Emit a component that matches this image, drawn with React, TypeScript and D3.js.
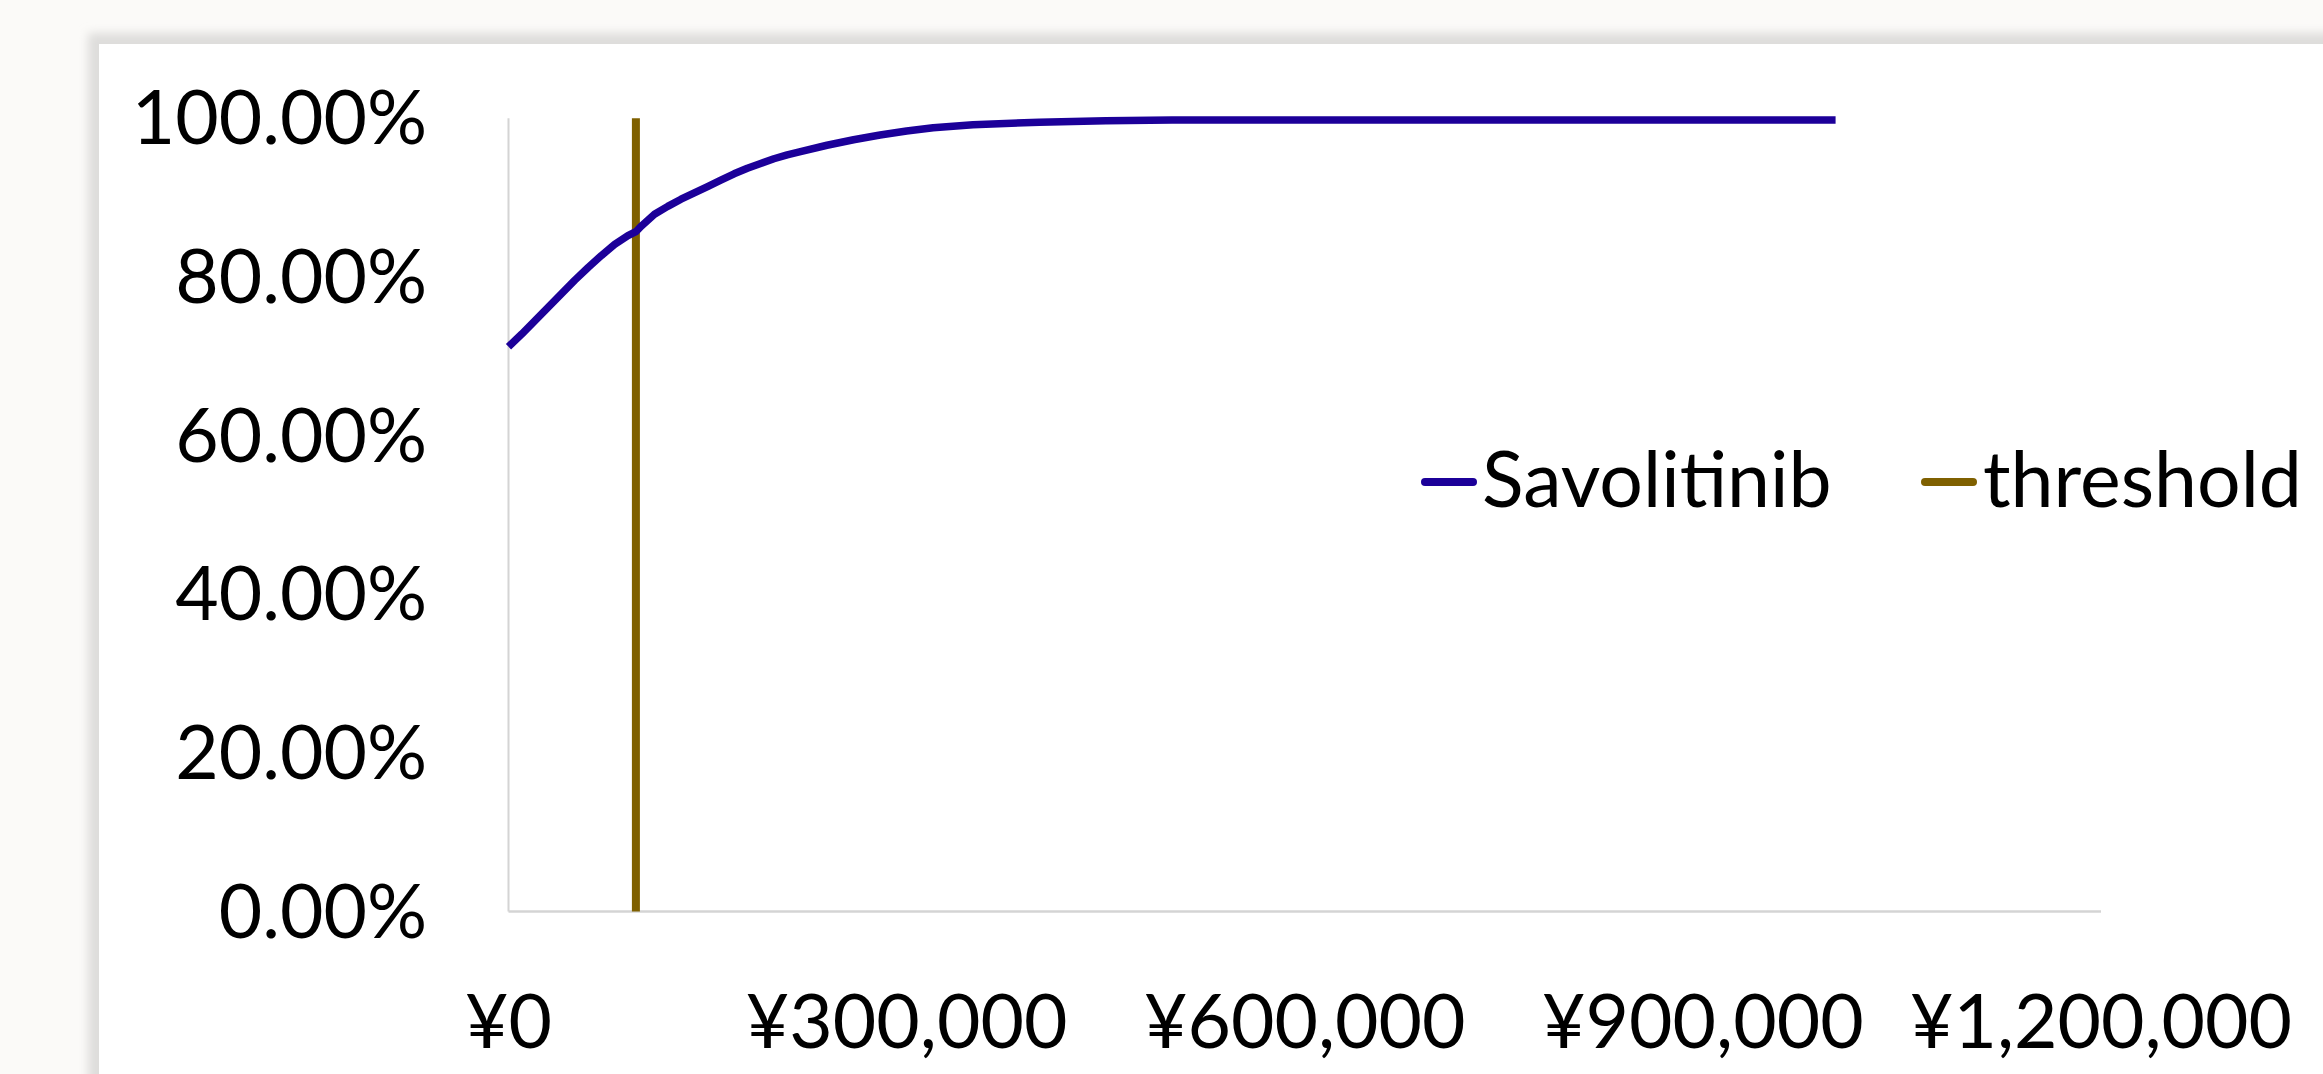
import React from "react";
import * as d3 from "d3";

const W = 2323;
const H = 1074;

// Willingness-to-pay values (¥) and probability Savolitinib is cost-effective
const wtp = [
  0, 10000, 20000, 30000, 40000, 50000, 60000, 70000, 80000, 90000, 96000, 100000,
  110000, 120000, 130000, 140000, 150000, 160000, 170000, 180000, 190000, 200000,
  210000, 220000, 240000, 260000, 280000, 300000, 320000, 350000, 400000, 450000,
  500000, 600000, 700000, 800000, 900000, 1000000,
];
const savolitinib = [
  0.712, 0.728, 0.745, 0.762, 0.779, 0.796, 0.812, 0.827, 0.841, 0.852, 0.857, 0.864,
  0.879, 0.889, 0.898, 0.906, 0.914, 0.922, 0.930, 0.937, 0.943, 0.949,
  0.954, 0.958, 0.966, 0.973, 0.979, 0.984, 0.988, 0.992, 0.995, 0.997,
  0.998, 0.998, 0.998, 0.998, 0.998, 0.998,
];
const thresholdX = [96000, 96000];
const thresholdY = [0, 1];

const xTicks = [0, 300000, 600000, 900000, 1200000];
const yTicks = [0, 0.2, 0.4, 0.6, 0.8, 1.0];
const seriesNames = ["Savolitinib", "threshold"];
const seriesColors = ["#1c0099", "#7f6000"];

const FONT = "Lato, 'Noto Sans', sans-serif";

export default function App() {
  const x = d3.scaleLinear().domain([0, 1200000]).range([508.5, 2101]);
  const y = d3.scaleLinear().domain([0, 1]).range([911.5, 118.3]);

  const line = d3
    .line<number>()
    .x((_, i) => x(wtp[i]))
    .y((d) => y(d))
    .curve(d3.curveLinear);

  const thrLine = d3
    .line<number>()
    .x((_, i) => x(thresholdX[i]))
    .y((d) => y(d));

  const yFmt = (v: number) => (v * 100).toFixed(2) + "%";
  const xFmt = (v: number) => "¥" + d3.format(",")(v);

  const legend = [
    { name: seriesNames[0], color: seriesColors[0], lx: 1421, tx: 1482 },
    { name: seriesNames[1], color: seriesColors[1], lx: 1921, tx: 1983 },
  ];

  return (
    <svg
      width={W}
      height={H}
      viewBox={`0 0 ${W} ${H}`}
      style={{ position: "absolute", left: 0, top: 0, display: "block" }}
    >
      <defs>
        <filter id="shadow" x="-5%" y="-5%" width="110%" height="110%">
          <feGaussianBlur stdDeviation="5" />
        </filter>
      </defs>
      <rect x={0} y={0} width={W} height={H} fill="#fbfaf8" />
      <rect x={88} y={33} width={W} height={H} fill="#dedddb" filter="url(#shadow)" />
      <rect x={99} y={44} width={W} height={H} fill="#ffffff" />

      {/* axes */}
      <line
        x1={x(0)}
        x2={x(0)}
        y1={y(0)}
        y2={y(1)}
        stroke="#d4d4d4"
        strokeWidth={2}
      />
      <line
        x1={x(0)}
        x2={x(1200000)}
        y1={y(0)}
        y2={y(0)}
        stroke="#d4d4d4"
        strokeWidth={2.5}
      />

      {/* y tick labels */}
      {yTicks.map((t) => (
        <text
          key={t}
          x={427}
          y={y(t) + 26}
          textAnchor="end"
          fontFamily={FONT}
          fontSize={75}
          fill="#000"
        >
          {yFmt(t)}
        </text>
      ))}

      {/* x tick labels */}
      {xTicks.map((t) => (
        <text
          key={t}
          x={x(t)}
          y={1048}
          textAnchor="middle"
          fontFamily={FONT}
          fontSize={75}
          fill="#000"
          style={{ fontVariantNumeric: "tabular-nums" }}
        >
          {xFmt(t)}
        </text>
      ))}

      {/* threshold */}
      <path
        d={thrLine(thresholdY) || ""}
        fill="none"
        stroke={seriesColors[1]}
        strokeWidth={8}
      />

      {/* curve */}
      <path
        d={line(savolitinib) || ""}
        fill="none"
        stroke={seriesColors[0]}
        strokeWidth={7.5}
        strokeLinejoin="round"
      />

      {/* legend */}
      {legend.map((l) => (
        <g key={l.name}>
          <line
            x1={l.lx + 4}
            x2={l.lx + 52}
            y1={482}
            y2={482}
            stroke={l.color}
            strokeWidth={8}
            strokeLinecap="round"
          />
          <text
            x={l.tx}
            y={507}
            fontFamily={FONT}
            fontSize={77}
            fill="#000"
          >
            {l.name}
          </text>
        </g>
      ))}
    </svg>
  );
}
